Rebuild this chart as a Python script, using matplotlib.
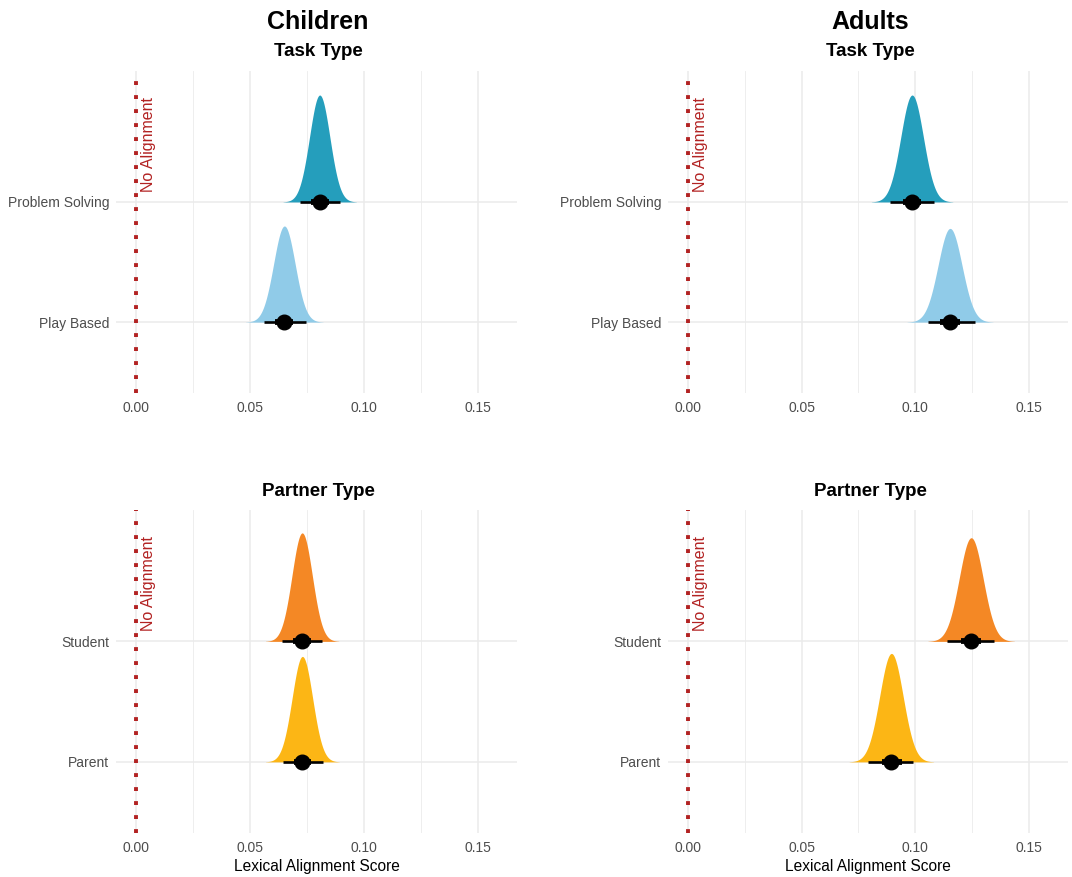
import numpy as np
import matplotlib
matplotlib.use("Agg")
import matplotlib.pyplot as plt

plt.rcParams['font.family'] = ['Liberation Sans', 'DejaVu Sans']

# posterior summaries (median, 95% and 66% intervals, drawn peak height)
task_labels = ["Play Based", "Problem Solving"]
partner_labels = ["Parent", "Student"]

child_task_med = [0.0651, 0.0806]
child_task_lo95 = [0.0560, 0.0718]
child_task_hi95 = [0.0745, 0.0893]
child_task_lo66 = [0.0612, 0.0768]
child_task_hi66 = [0.0690, 0.0846]
child_task_peak = [0.80, 0.89]

adult_task_med = [0.1153, 0.0986]
adult_task_lo95 = [0.1055, 0.0887]
adult_task_hi95 = [0.1261, 0.1082]
adult_task_lo66 = [0.1110, 0.0945]
adult_task_hi66 = [0.1198, 0.1027]
adult_task_peak = [0.78, 0.89]

child_partner_med = [0.0730, 0.0729]
child_partner_lo95 = [0.0645, 0.0642]
child_partner_hi95 = [0.0821, 0.0817]
child_partner_lo66 = [0.0692, 0.0690]
child_partner_hi66 = [0.0770, 0.0768]
child_partner_peak = [0.875, 0.90]

adult_partner_med = [0.0895, 0.1246]
adult_partner_lo95 = [0.0790, 0.1141]
adult_partner_hi95 = [0.0992, 0.1348]
adult_partner_lo66 = [0.0852, 0.1202]
adult_partner_hi66 = [0.0940, 0.1290]
adult_partner_peak = [0.90, 0.86]

task_colors = ["#90CBE8", "#259EBC"]
partner_colors = ["#FCB615", "#F48825"]

xticks = [0.0, 0.05, 0.10, 0.15]
xtick_labels = ["0.00", "0.05", "0.10", "0.15"]

fig = plt.figure(figsize=(10.72, 8.77), dpi=100)
W, H = 1072, 877


def panel(left, right, top, bottom, labels, med, lo95, hi95, lo66, hi66, peak, colors, xlabel):
    ax = fig.add_axes([left / W, 1 - bottom / H, (right - left) / W, (bottom - top) / H])
    ax.set_xlim(-0.0088, 0.1672)
    ax.set_ylim(0.41, 3.09)
    for s in ax.spines.values():
        s.set_visible(False)
    ax.set_xticks(xticks)
    ax.set_xticklabels(xtick_labels)
    ax.set_xticks([0.025, 0.075, 0.125], minor=True)
    ax.set_yticks([1, 2])
    ax.set_yticklabels(labels)
    ax.tick_params(axis='both', which='both', length=0, labelsize=10, labelcolor='#4D4D4D')
    ax.tick_params(axis='x', pad=6)
    ax.tick_params(axis='y', pad=5)
    ax.grid(True, which='major', color='#EBEBEB', lw=1.1, zorder=0)
    ax.grid(True, which='minor', axis='x', color='#EBEBEB', lw=0.6, zorder=0)
    ax.set_axisbelow(True)

    for i in range(2):
        y0 = i + 1
        sd = (hi95[i] - lo95[i]) / 3.92
        xs = np.linspace(med[i] - 3.6 * sd, med[i] + 3.6 * sd, 300)
        dens = peak[i] * np.exp(-0.5 * ((xs - med[i]) / sd) ** 2)
        ax.fill_between(xs, y0, y0 + dens, color=colors[i], lw=0, zorder=2)
        ax.plot([lo95[i], hi95[i]], [y0, y0], color='black', lw=1.9, solid_capstyle='butt', zorder=3)
        ax.plot([lo66[i], hi66[i]], [y0, y0], color='black', lw=4.2, solid_capstyle='butt', zorder=3)
        ax.plot(med[i], y0, 'o', color='black', ms=10.5, zorder=4)

    ax.axvline(0, color='#B22222', lw=2.8, linestyle=(0, (1, 2.6)), zorder=3)
    ax.text(0.0022, 2.48, "No Alignment", rotation=90, color='#B22222', fontsize=11.5,
            ha='left', va='center', zorder=4)
    if xlabel:
        ax.set_xlabel("Lexical Alignment Score", fontsize=11.2, color='black', labelpad=3)
    return ax


panel(116, 517, 71, 393, task_labels, child_task_med, child_task_lo95, child_task_hi95,
      child_task_lo66, child_task_hi66, child_task_peak, task_colors, False)
panel(668, 1068, 71, 393, task_labels, adult_task_med, adult_task_lo95, adult_task_hi95,
      adult_task_lo66, adult_task_hi66, adult_task_peak, task_colors, False)
panel(116, 517, 510, 833, partner_labels, child_partner_med, child_partner_lo95, child_partner_hi95,
      child_partner_lo66, child_partner_hi66, child_partner_peak, partner_colors, True)
panel(668, 1068, 510, 833, partner_labels, adult_partner_med, adult_partner_lo95, adult_partner_hi95,
      adult_partner_lo66, adult_partner_hi66, adult_partner_peak, partner_colors, True)

# column and panel titles
fig.text(318 / W, 1 - 22 / H, "Children", fontsize=18, fontweight='bold', ha='center', va='center')
fig.text(870 / W, 1 - 22 / H, "Adults", fontsize=18, fontweight='bold', ha='center', va='center')
fig.text(318 / W, 1 - 52 / H, "Task Type", fontsize=13.5, fontweight='bold', ha='center', va='center')
fig.text(870 / W, 1 - 52 / H, "Task Type", fontsize=13.5, fontweight='bold', ha='center', va='center')
fig.text(318 / W, 1 - 492 / H, "Partner Type", fontsize=13.5, fontweight='bold', ha='center', va='center')
fig.text(870 / W, 1 - 492 / H, "Partner Type", fontsize=13.5, fontweight='bold', ha='center', va='center')

fig.savefig("out.png", dpi=100, facecolor='white')
